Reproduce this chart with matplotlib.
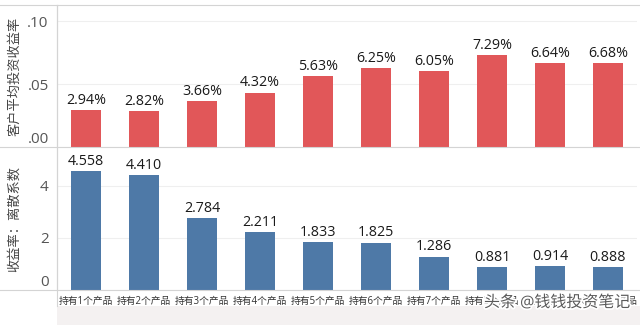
import matplotlib
matplotlib.use("Agg")
import matplotlib.pyplot as plt
import matplotlib.patheffects as pe
from matplotlib.lines import Line2D
from matplotlib.patches import Rectangle

plt.rcParams['font.family'] = ['Open Sans', 'Noto Sans CJK SC', 'DejaVu Sans']

categories = ['持有1个产品', '持有2个产品', '持有3个产品', '持有4个产品', '持有5个产品',
              '持有6个产品', '持有7个产品', '持有8个产品', '持有9个产品', '持有10个产品']
avg_return = [0.0294, 0.0282, 0.0366, 0.0432, 0.0563, 0.0625, 0.0605, 0.0729, 0.0664, 0.0668]
dispersion = [4.558, 4.410, 2.784, 2.211, 1.833, 1.825, 1.286, 0.881, 0.914, 0.888]
top_ticks = [0.0, 0.05, 0.10]
top_ticklabels = ['.00', '.05', '.10']
bottom_ticks = [0, 2, 4]

red = '#E15759'
blue = '#4E79A7'
grid_c = '#EFEFEF'
line_c = '#D4D4D4'

fig = plt.figure(figsize=(6.4, 3.25), dpi=100)
W, H = 640, 325

def fx(px):
    return px / W

def fy(py):
    return 1 - py / H

# light band under the category labels
fig.add_artist(Rectangle((fx(57), 0), 1 - fx(57), fy(306), transform=fig.transFigure,
                         facecolor='#F4F1F1', edgecolor='none', zorder=0))

x0, x1 = 57, 637
ax1 = fig.add_axes([fx(x0), fy(147), fx(x1 - x0), fy(5) - fy(147)])
ax2 = fig.add_axes([fx(x0), fy(290), fx(x1 - x0), fy(148) - fy(290)])

xs = list(range(len(categories)))
bw = 0.52

ax1.bar(xs, avg_return, width=bw, color=red, zorder=3)
for x, v in zip(xs, avg_return):
    ax1.annotate(f'{v * 100:.2f}%', (x, v), xytext=(0, 1.5), textcoords='offset points',
                 ha='center', va='bottom', fontsize=10.3, color='#1a1a1a')
ax1.set_ylim(0, 0.1127)
ax1.set_yticks(top_ticks)
ax1.set_yticklabels(top_ticklabels)

ax2.bar(xs, dispersion, width=bw, color=blue, zorder=3)
for x, v in zip(xs, dispersion):
    ax2.annotate(f'{v:.3f}', (x, v), xytext=(0, 1.5), textcoords='offset points',
                 ha='center', va='bottom', fontsize=10.3, color='#1a1a1a')
ax2.set_ylim(0, 5.46)
ax2.set_yticks(bottom_ticks)
ax2.set_xticks(xs)
ax2.set_xticklabels(categories, fontsize=7, color='#333333')

for ax in (ax1, ax2):
    ax.set_xlim(-0.5, len(categories) - 0.5)
    ax.set_facecolor('none')
    for s in ('top', 'right', 'bottom'):
        ax.spines[s].set_visible(False)
    ax.spines['left'].set_color(line_c)
    ax.spines['left'].set_linewidth(0.8)
    ax.tick_params(axis='y', length=0, labelsize=11, colors='#555555', pad=6)
    ax.tick_params(axis='x', length=0, pad=4)
    ax.yaxis.grid(True, color=grid_c, linewidth=0.8, zorder=0)
    ax.set_axisbelow(True)
    # the zero label sits just above the baseline
    ax.get_yticklabels()[0].set_verticalalignment('bottom')
ax1.tick_params(axis='x', labelbottom=False)

ax1.set_ylabel('客户平均投资收益率', fontsize=9.5, color='#444444')
ax2.set_ylabel('收益率：离散系数', fontsize=9.5, color='#444444')
ax1.yaxis.set_label_coords(-0.062, 0.5)
ax2.yaxis.set_label_coords(-0.062, 0.5)

# frame lines spanning the full width
for py in (5, 147, 290):
    fig.add_artist(Line2D([0, 1], [fy(py), fy(py)], transform=fig.transFigure,
                          color=line_c, linewidth=0.8))
fig.add_artist(Line2D([fx(57), fx(57)], [fy(306), fy(5)], transform=fig.transFigure,
                      color=line_c, linewidth=0.8))

fig.text(fx(484), fy(303), '头条 @钱钱投资笔记', fontsize=11.5, color='#5a5a5a',
         ha='left', va='center',
         path_effects=[pe.withStroke(linewidth=2.5, foreground='white')])

fig.savefig('out.png', dpi=100)
